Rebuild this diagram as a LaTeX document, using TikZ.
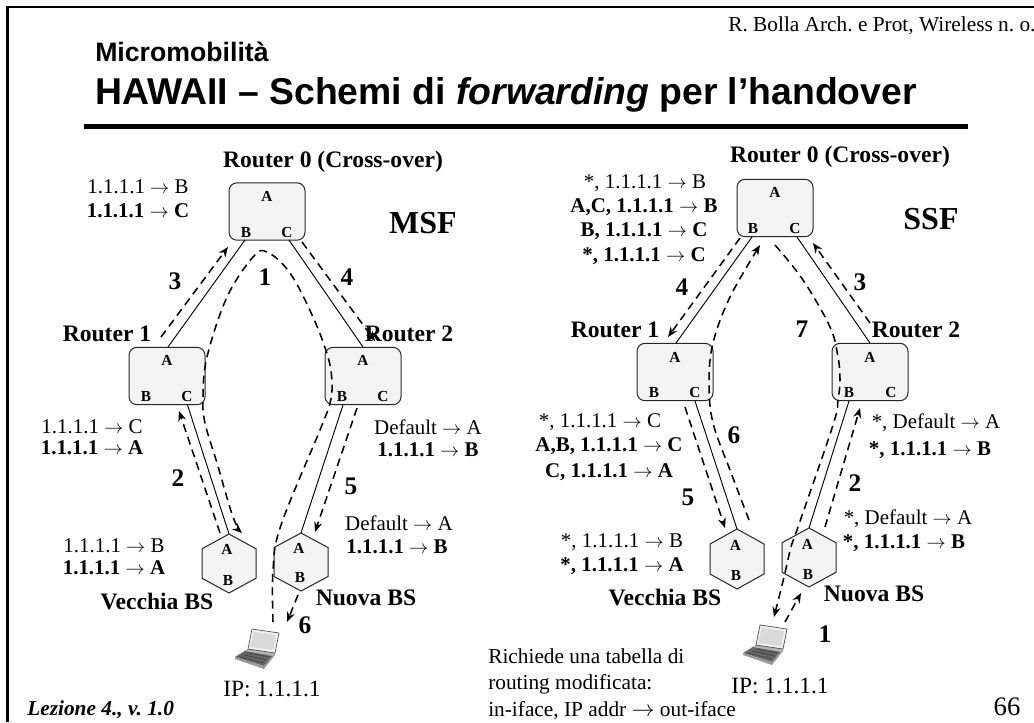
\documentclass[tikz,border=0pt]{standalone}
\usepackage{fontspec}
\setmainfont{Liberation Serif}
\newfontfamily\arialfont{Liberation Sans}
\usetikzlibrary{arrows.meta,calc}
\definecolor{boxfill}{HTML}{F3F3F3}
\newcommand{\toarrow}{\ensuremath{\rightarrow}}
\tikzset{
 x=.75pt,y=-.75pt,
 routerbox/.style={draw=black!85,line width=.75pt,fill=boxfill,rounded corners=6pt,minimum width=57pt,minimum height=43pt,inner sep=0pt},
 hexframe/.style={inner sep=0pt,outer sep=0pt},
 hexline/.style={draw=black!85,line width=.75pt,fill=boxfill},
 link/.style={draw=black,line width=.7pt},
 flow/.style={draw=black,line width=1.15pt,dash pattern=on 6pt off 4pt},
 flowtip/.style={flow,-{Stealth[length=7.5pt,width=6pt]}},
 port/.style={font=\bfseries\fontsize{11.5}{13}\selectfont,inner sep=0pt},
 rname/.style={font=\bfseries\fontsize{17.7}{20}\selectfont,inner sep=0pt},
 tab/.style={font=\fontsize{15.7}{18}\selectfont,inner sep=0pt},
 tabb/.style={font=\bfseries\fontsize{15.7}{18}\selectfont,inner sep=0pt},
 num/.style={font=\bfseries\fontsize{19}{20}\selectfont,inner sep=0pt},
 scheme/.style={font=\bfseries\fontsize{24}{26}\selectfont,inner sep=0pt},
 plain/.style={font=\fontsize{16}{18}\selectfont,inner sep=0pt,anchor=base west},
}
\newcommand{\hexnode}[5]{%
 \node[hexframe,minimum width=#4*.75pt,minimum height=#5*.75pt] (#1) at (#2,#3) {};
 \draw[hexline] (#1.north) -- ($(#1.north east)!.25!(#1.south east)$) -- ($(#1.north east)!.75!(#1.south east)$) -- (#1.south) -- ($(#1.north west)!.75!(#1.south west)$) -- ($(#1.north west)!.25!(#1.south west)$) -- cycle;}
\newcommand{\laptopnode}[3]{%
 \node[inner sep=0pt,minimum width=33pt,minimum height=29pt] (#1) at (#2,#3) {};
 \begin{scope}[shift={(#2,#3)},line width=.5pt]
  \fill[black!60] (-22,9) -- (-9,1) -- (18,5) -- (7,18) -- cycle;
  \fill[black!40] (-22,9) -- (7,18) -- (18,5) -- (18,7) -- (7,21) -- (-22,11) -- cycle;
  \fill[black!30] (-9,1) -- (18,5) -- (16,8) -- (-12,3) -- cycle;
  \draw[black!70,fill=black!6] (-5,-19) -- (22,-15) -- (18,5) -- (-9,1) -- cycle;
  \fill[black!15] (-3,-16) -- (19,-13) -- (16,2) -- (-7,-1) -- cycle;
  \draw[black!75] (-17,9) -- (7,15) (-13,7) -- (10,12) (-9,5) -- (13,9);
 \end{scope}}
\begin{document}
\frenchspacing
\begin{tikzpicture}
\useasboundingbox (0,0) rectangle (1034,722);
\fill[white] (0,0) rectangle (1034,722);
% frame
\coordinate (frameBL) at (7.5,722); \coordinate (frameTL) at (7.5,7); \coordinate (frameTR) at (1034,7);
\draw[black,line width=2.2pt,line join=miter] (frameBL) -- (frameTL) -- (frameTR);
% title
\node[inner sep=0pt,anchor=base west,font=\fontsize{16}{18}\selectfont] (credit) at (728,31) {R. Bolla Arch. e Prot, Wireless n. o.};
\node[inner sep=0pt,anchor=base west,font=\arialfont\bfseries\fontsize{20}{22}\selectfont] (sup) at (95,61) {Micromobilità};
\node[inner sep=0pt,anchor=base west,font=\arialfont\bfseries\fontsize{28}{30}\selectfont] (title) at (95,104) {HAWAII – Schemi di \textit{forwarding} per l’handover};
\coordinate (ruleL) at (84,126.5); \coordinate (ruleR) at (968,126.5);
\draw[black,line width=4pt] (ruleL) -- (ruleR);

% ===== MSF nodes
\node[routerbox] (lr0) at (267,211.5) {};
\node[routerbox] (lr1) at (167,376) {};
\node[routerbox] (lr2) at (363,376) {};
\hexnode{lhv}{229}{563.5}{54}{59}
\hexnode{lhn}{301}{562}{54}{58}
\laptopnode{llap}{257}{648}
% ===== SSF nodes
\node[routerbox] (rr0) at (775,208) {};
\node[routerbox] (rr1) at (675,372) {};
\node[routerbox] (rr2) at (870,372) {};
\hexnode{rhv}{737}{559}{54}{60}
\hexnode{rhn}{809}{557.5}{54}{59}
\laptopnode{rlap}{765}{644}

% ===== MSF links
\coordinate (lr0B) at (245,240); \coordinate (lr0C) at (289,240);
\coordinate (lr1A) at (168,347); \coordinate (lr1C) at (187.5,405);
\coordinate (lr2A) at (363,347); \coordinate (lr2B) at (343,405);
\draw[link] (lr0B) -- (lr1A);
\draw[link] (lr0C) -- (lr2A);
\draw[link] (lr1C) -- (lhv.north);
\draw[link] (lr2B) -- (lhn.north);
% MSF flows
\coordinate (f3a) at (161,337); \coordinate (f3b) at (228,247);
\draw[flowtip] (f3a) -- (f3b);
\coordinate (f4a) at (302,242); \coordinate (f4b) at (375,341);
\draw[flowtip] (f4a) -- (f4b);
\coordinate (f2a) at (220,533); \coordinate (f2b) at (179,411);
\draw[flowtip] (f2a) -- (f2b);
\coordinate (f5a) at (357,408); \coordinate (f5b) at (315,532);
\draw[flowtip] (f5a) -- (f5b);
\coordinate (f6a) at (298,595); \coordinate (f6b) at (287,622);
\draw[flowtip] (f6a) -- (f6b);
\coordinate (f1a) at (273,622); \coordinate (f1b) at (242,533);
\draw[flowtip] plot[smooth,tension=.6] coordinates {(f1a) (273,570) (281,525) (320,430) (330,403) (332,383) (328,357) (313,317) (290,273) (267,252) (253,257) (227,297) (207,357) (203,397) (205,423) (217,463) (233,517) (f1b)};

% ===== SSF links
\coordinate (rr0B) at (752,237); \coordinate (rr0C) at (797,237);
\coordinate (rr1A) at (676,343); \coordinate (rr1C) at (695,401);
\coordinate (rr2A) at (870,343); \coordinate (rr2B) at (849,401);
\draw[link] (rr0B) -- (rr1A);
\draw[link] (rr0C) -- (rr2A);
\draw[link] (rr1C) -- (rhv.north);
\draw[link] (rr2B) -- (rhn.north);
% SSF flows
\coordinate (g4a) at (740,238); \coordinate (g4b) at (668,337);
\draw[flowtip] (g4a) -- (g4b);
\coordinate (g3a) at (870,323); \coordinate (g3b) at (813,243);
\draw[flowtip] (g3a) -- (g3b);
\coordinate (g5a) at (685,407); \coordinate (g5b) at (725,528);
\draw[flowtip] (g5a) -- (g5b);
\coordinate (g2a) at (825,527); \coordinate (g2b) at (860,408);
\draw[flowtip] (g2a) -- (g2b);
\coordinate (g1a) at (785,622); \coordinate (g1b) at (801,593);
\draw[flowtip] (g1a) -- (g1b);
\coordinate (g6a) at (749,520); \coordinate (g6b) at (760,245);
\draw[flowtip] plot[smooth,tension=.6] coordinates {(g6a) (730,470) (713,423) (709,383) (713,343) (730,297) (g6b)};
\coordinate (g7a) at (775,245); \coordinate (g7b) at (774,617);
\draw[flowtip] plot[smooth,tension=.6] coordinates {(g7a) (803,280) (830,327) (838,357) (840,380) (838,400) (833,425) (798,527) (791,547) (784,577) (g7b)};

% ===== MSF labels
\node[rname] (ln0) at (333,162) {Router 0 (Cross-over)};
\node[rname] (ln1) at (107,334) {Router 1};
\node[rname] (ln2) at (409,334) {Router 2};
\node[rname] (ln3) at (157,601) {Vecchia BS};
\node[rname] (ln4) at (366,598) {Nuova BS};
\node[scheme] (lmsf) at (423,223) {MSF};
\node[port] (lp1) at (267,196) {A}; \node[port] (lp2) at (246,232) {B}; \node[port] (lp3) at (287,232) {C};
\node[port] (lp4) at (167,360) {A}; \node[port] (lp5) at (146,396) {B}; \node[port] (lp6) at (187,396) {C};
\node[port] (lp7) at (363,360) {A}; \node[port] (lp8) at (342,396) {B}; \node[port] (lp9) at (383,396) {C};
\node[port] (lp10) at (227,549) {A}; \node[port] (lp11) at (228,580) {B};
\node[port] (lp12) at (299,548) {A}; \node[port] (lp13) at (300,577) {B};
\node[tab] (lt1) at (138,187) {1.1.1.1 \toarrow{} B};
\node[tabb] (lt2) at (138,211) {1.1.1.1 \toarrow{} C};
\node[tab] (lt3) at (92,427) {1.1.1.1 \toarrow{} C};
\node[tabb] (lt4) at (92,448) {1.1.1.1 \toarrow{} A};
\node[tab] (lt5) at (428,427) {Default \toarrow{} A};
\node[tabb] (lt6) at (428,450) {1.1.1.1 \toarrow{} B};
\node[tab] (lt7) at (399,523) {Default \toarrow{} A};
\node[tabb] (lt8) at (397,547) {1.1.1.1 \toarrow{} B};
\node[tab] (lt9) at (114,546) {1.1.1.1 \toarrow{} B};
\node[tabb] (lt10) at (114,568) {1.1.1.1 \toarrow{} A};
\node[num] (ln11) at (175,281) {3};
\node[num] (ln12) at (265,277) {1};
\node[num] (ln13) at (347,277) {4};
\node[num] (ln14) at (178,478) {2};
\node[num] (ln15) at (351,486) {5};
\node[num] (ln16) at (305,625) {6};
\node[inner sep=0pt,font=\fontsize{17.5}{18}\selectfont] (lip) at (272,689) {IP: 1.1.1.1};

% ===== SSF labels
\node[rname] (rn0) at (840,157) {Router 0 (Cross-over)};
\node[rname] (rn1) at (615,330) {Router 1};
\node[rname] (rn2) at (916,330) {Router 2};
\node[rname] (rn3) at (665,597) {Vecchia BS};
\node[rname] (rn4) at (874,594) {Nuova BS};
\node[scheme] (rssf) at (931,219) {SSF};
\node[port] (rp1) at (775,192) {A}; \node[port] (rp2) at (753,228) {B}; \node[port] (rp3) at (795,228) {C};
\node[port] (rp4) at (675,357) {A}; \node[port] (rp5) at (654,392) {B}; \node[port] (rp6) at (695,392) {C};
\node[port] (rp7) at (870,357) {A}; \node[port] (rp8) at (849,392) {B}; \node[port] (rp9) at (891,392) {C};
\node[port] (rp10) at (735.5,545) {A}; \node[port] (rp11) at (736,575) {B};
\node[port] (rp12) at (807.5,544) {A}; \node[port] (rp13) at (808,574) {B};
\node[tab] (rt1) at (645,183) {*, 1.1.1.1 \toarrow{} B};
\node[tabb] (rt2) at (644,207) {A,C, 1.1.1.1 \toarrow{} B};
\node[tabb] (rt3) at (644,231) {B, 1.1.1.1 \toarrow{} C};
\node[tabb] (rt4) at (644,256) {*, 1.1.1.1 \toarrow{} C};
\node[tab] (rt5) at (600,422) {*, 1.1.1.1 \toarrow{} C};
\node[tabb] (rt6) at (609,446) {A,B, 1.1.1.1 \toarrow{} C};
\node[tabb] (rt7) at (609,472) {C, 1.1.1.1 \toarrow{} A};
\node[tab] (rt8) at (936,423) {*, Default \toarrow{} A};
\node[tabb] (rt9) at (930,450) {*, 1.1.1.1 \toarrow{} B};
\node[tab] (rt10) at (908,519) {*, Default \toarrow{} A};
\node[tabb] (rt11) at (904,543) {*, 1.1.1.1 \toarrow{} B};
\node[tab] (rt12) at (622,542) {*, 1.1.1.1 \toarrow{} B};
\node[tabb] (rt13) at (622,566) {*, 1.1.1.1 \toarrow{} A};
\node[num] (rn11) at (682,287) {4};
\node[num] (rn12) at (860,282) {3};
\node[num] (rn13) at (802,329) {7};
\node[num] (rn14) at (734,435) {6};
\node[num] (rn15) at (688,497) {5};
\node[num] (rn16) at (855,483) {2};
\node[num] (rn17) at (825,634) {1};
\node[inner sep=0pt,font=\fontsize{17.5}{18}\selectfont] (rip) at (780,686) {IP: 1.1.1.1};
\node[plain] (note1) at (488,663) {Richiede una tabella di};
\node[plain] (note2) at (488,689) {routing modificata:};
\node[plain] (note3) at (488,716) {in-iface, IP addr \toarrow{} out-iface};
\node[inner sep=0pt,font=\fontsize{20}{22}\selectfont] (pagenum) at (1007,707) {66};
\node[inner sep=0pt,anchor=base west,font=\bfseries\itshape\fontsize{16}{18}\selectfont] (lez) at (27,715) {Lezione 4., v. 1.0};
\end{tikzpicture}
\end{document}
